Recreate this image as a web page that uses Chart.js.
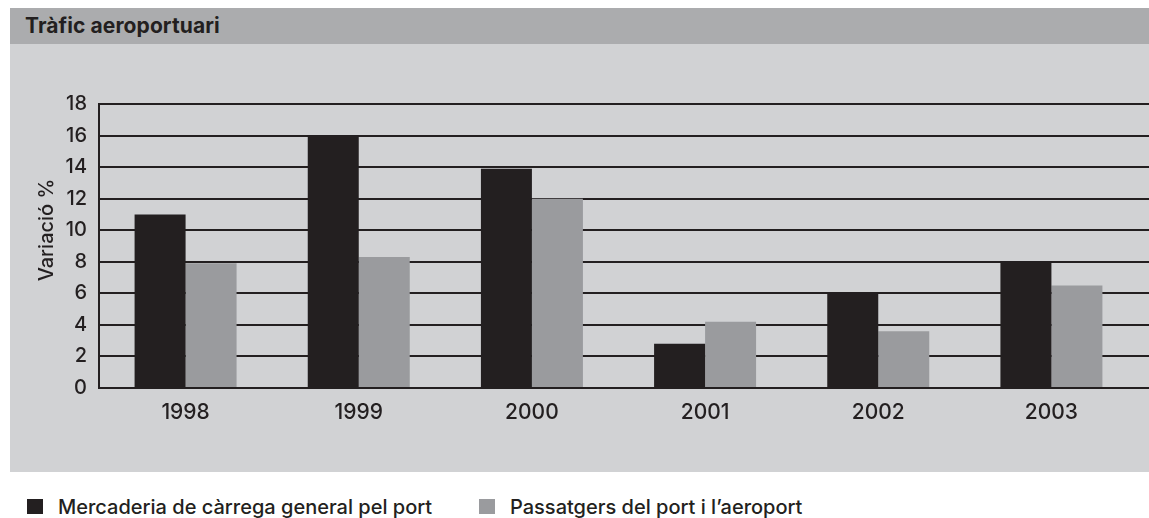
<!DOCTYPE html>
<html>
<head>
<meta charset="utf-8">
<script src="https://cdn.jsdelivr.net/npm/chart.js@4/dist/chart.umd.min.js"></script>
<style>
  html, body { margin: 0; padding: 0; background: #ffffff; }
  body { width: 1149px; height: 518px; position: relative; overflow: hidden; font-family: Inter, "Liberation Sans", Arial, sans-serif; color: #231f20; }
  #header { position: absolute; left: 10px; top: 8px; width: 1139px; height: 36px; background: #abacae; }
  #title { position: absolute; left: 15px; top: 7px; font-size: 21px; font-weight: 700; line-height: 22px; white-space: nowrap; letter-spacing: 0.1px; }
  #panel { position: absolute; left: 10px; top: 44px; width: 1139px; height: 428px; background: #d1d2d4; }
  #chartWrap { position: absolute; left: 0; top: 0; width: 1149px; height: 472px; }
  #ytitle { position: absolute; left: 46px; top: 230px; transform: translate(-50%, -50%) rotate(-90deg); font-size: 20px; font-weight: 500; line-height: 22px; white-space: nowrap; }
  .leg { position: absolute; top: 497px; font-size: 20px; font-weight: 500; line-height: 20px; white-space: nowrap; }
  .sw { position: absolute; top: 499px; width: 16px; height: 15px; }
</style>
</head>
<body>
<div id="header"><div id="title"></div></div>
<div id="panel"></div>
<div id="chartWrap"><canvas id="c" width="1149" height="472"></canvas></div>
<div id="ytitle"></div>
<div class="sw" id="sw0" style="left:27px;"></div>
<div class="leg" id="lg0" style="left:58px;"></div>
<div class="sw" id="sw1" style="left:479px;"></div>
<div class="leg" id="lg1" style="left:510px;"></div>
<script>
const chartTitle = 'Tràfic aeroportuari';
const yAxisTitle = 'Variació %';
const categories = ['1998', '1999', '2000', '2001', '2002', '2003'];
const seriesNames = ['Mercaderia de càrrega general pel port', 'Passatgers del port i l\u2019aeroport'];
const mercaderia = [11, 16, 13.9, 2.8, 6, 8];
const passatgers = [7.9, 8.3, 12, 4.2, 3.6, 6.5];
const yMin = 0, yMax = 18, yStep = 2;
const seriesColors = ['#231f20', '#9a9b9e'];

document.getElementById('title').textContent = chartTitle;
document.getElementById('ytitle').textContent = yAxisTitle;
seriesNames.forEach((n, i) => {
  document.getElementById('lg' + i).textContent = n;
  document.getElementById('sw' + i).style.background = seriesColors[i];
});

const tickFont = { family: 'Inter, "Liberation Sans", Arial, sans-serif', size: 20, weight: '500' };
const xTickFont = { family: 'Inter, "Liberation Sans", Arial, sans-serif', size: 21, weight: '500' };

// extends the horizontal grid lines of the y scale to the right edge of the canvas
const gridExtend = {
  id: 'gridExtend',
  beforeDatasetsDraw(chart) {
    const { ctx, chartArea, scales: { y } } = chart;
    ctx.save();
    ctx.strokeStyle = '#231f20';
    ctx.lineWidth = 2;
    y.ticks.forEach(t => {
      const py = Math.round(y.getPixelForValue(t.value));
      ctx.beginPath();
      ctx.moveTo(chartArea.right - 1, py);
      ctx.lineTo(chart.width, py);
      ctx.stroke();
    });
    ctx.restore();
  }
};

new Chart(document.getElementById('c'), {
  type: 'bar',
  data: {
    labels: categories,
    datasets: [
      { label: seriesNames[0], data: mercaderia, backgroundColor: seriesColors[0], borderWidth: 0 },
      { label: seriesNames[1], data: passatgers, backgroundColor: seriesColors[1], borderWidth: 0 }
    ]
  },
  plugins: [gridExtend],
  options: {
    responsive: false,
    animation: false,
    events: [],
    layout: { padding: { top: 104, left: 0, right: 11, bottom: 0 } },
    datasets: { bar: { categoryPercentage: 0.589, barPercentage: 1.0 } },
    plugins: { legend: { display: false }, tooltip: { enabled: false }, title: { display: false } },
    scales: {
      x: {
        grid: { display: false, drawTicks: false },
        border: { display: true, color: '#231f20', width: 2 },
        ticks: { color: '#231f20', font: xTickFont, padding: 12 },
        afterFit: (s) => { s.height = 84; }
      },
      y: {
        min: yMin, max: yMax,
        grid: { color: '#231f20', lineWidth: 2, drawTicks: false },
        border: { display: true, color: '#231f20', width: 2 },
        ticks: { stepSize: yStep, color: '#231f20', font: tickFont, padding: 12 },
        afterFit: (s) => { s.width = 99; }
      }
    }
  }
});
</script>
</body>
</html>
